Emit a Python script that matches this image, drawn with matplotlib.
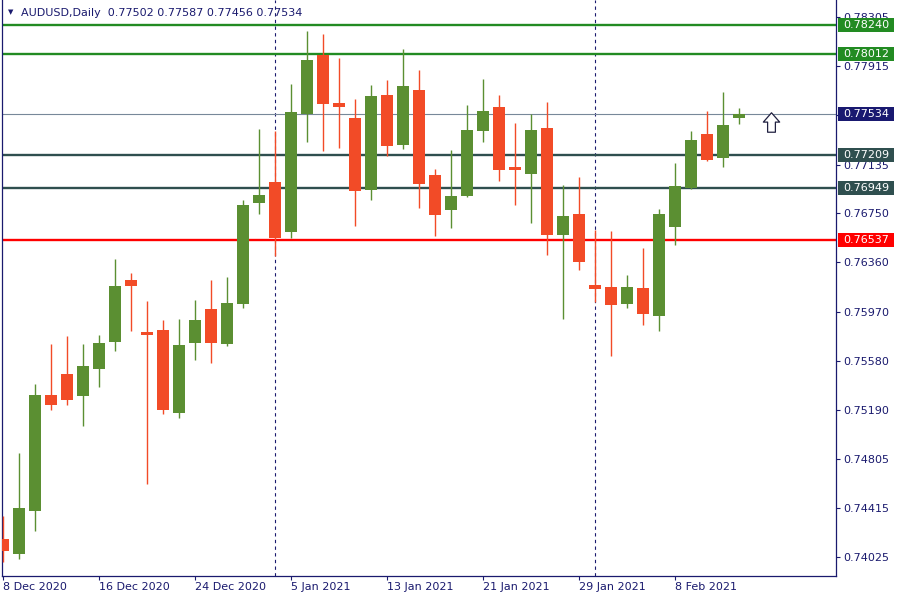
import matplotlib
matplotlib.use('Agg')
import matplotlib.pyplot as plt
import matplotlib.transforms as mtransforms
from matplotlib.patches import Rectangle
from matplotlib.path import Path

# Daily candles AUDUSD, 8 Dec 2020 .. 11 Feb 2021
opens = [0.74168, 0.74049, 0.74390, 0.75309, 0.75475, 0.75301, 0.75515, 0.75729,
         0.76221, 0.75808, 0.75824, 0.75166, 0.75721, 0.75991, 0.75713, 0.76030,
         0.76831, 0.76997, 0.76601, 0.77536, 0.78004, 0.77623, 0.77504, 0.76934,
         0.77687, 0.77291, 0.77727, 0.77053, 0.76775, 0.76886, 0.77402, 0.77592,
         0.77116, 0.77061, 0.77425, 0.76577, 0.76744, 0.76181, 0.76165, 0.76030,
         0.76157, 0.75935, 0.76641, 0.76950, 0.77378, 0.77188, 0.77502]
highs = [0.74350, 0.74849, 0.75396, 0.75713, 0.75777, 0.75713, 0.75785, 0.76387,
         0.76276, 0.76054, 0.75904, 0.75911, 0.76062, 0.76221, 0.76244, 0.76855,
         0.77417, 0.77402, 0.77774, 0.78194, 0.78170, 0.77980, 0.77655, 0.77766,
         0.77806, 0.78051, 0.77885, 0.77100, 0.77251, 0.77608, 0.77814, 0.77687,
         0.77465, 0.77536, 0.77631, 0.76973, 0.77037, 0.76617, 0.76609, 0.76260,
         0.76474, 0.76783, 0.77148, 0.77402, 0.77560, 0.77711, 0.77587]
lows = [0.73985, 0.74009, 0.74231, 0.75190, 0.75230, 0.75063, 0.75372, 0.75658,
        0.75816, 0.74604, 0.75158, 0.75127, 0.75586, 0.75563, 0.75697, 0.75999,
        0.76744, 0.76411, 0.76553, 0.77314, 0.77243, 0.77267, 0.76648, 0.76855,
        0.77203, 0.77259, 0.76791, 0.76569, 0.76633, 0.76878, 0.77314, 0.77005,
        0.76815, 0.76672, 0.76419, 0.75911, 0.76300, 0.76046, 0.75618, 0.75999,
        0.75864, 0.75816, 0.76498, 0.76942, 0.77164, 0.77116, 0.77456]
closes = [0.74073, 0.74413, 0.75309, 0.75230, 0.75269, 0.75539, 0.75721, 0.76173,
          0.76173, 0.75785, 0.75190, 0.75705, 0.75904, 0.75721, 0.76038, 0.76815,
          0.76894, 0.76553, 0.77552, 0.77964, 0.77615, 0.77592, 0.76926, 0.77679,
          0.77283, 0.77758, 0.76981, 0.76736, 0.76886, 0.77409, 0.77560, 0.77092,
          0.77092, 0.77409, 0.76577, 0.76728, 0.76363, 0.76149, 0.76022, 0.76165,
          0.75951, 0.76744, 0.76966, 0.77330, 0.77172, 0.77449, 0.77534]

date_ticks = [0, 6, 12, 18, 24, 30, 36, 42]
date_labels = ['8 Dec 2020', '16 Dec 2020', '24 Dec 2020', '5 Jan 2021',
               '13 Jan 2021', '21 Jan 2021', '29 Jan 2021', '8 Feb 2021']
month_starts = [17, 37]

# 0.77525 sits under the current price label, so its text is not shown
price_ticks = [0.78305, 0.77915, 0.77525, 0.77135, 0.76750, 0.76360,
               0.75970, 0.75580, 0.75190, 0.74805, 0.74415, 0.74025]
price_tick_labels = ['0.78305', '0.77915', '', '0.77135', '0.76750', '0.76360',
                     '0.75970', '0.75580', '0.75190', '0.74805', '0.74415', '0.74025']

levels = [0.78240, 0.78012, 0.77209, 0.76949, 0.76537]
level_colors = ['#228b22', '#228b22', '#2f4f4f', '#2f4f4f', '#ff0000']
last_price = 0.77534

NAVY = '#1a1a6e'
BULL = '#5b8f32'
BEAR = '#f24b27'

fig = plt.figure(figsize=(9, 6), dpi=100)
ax = fig.add_axes([2 / 900, 24 / 600, 834 / 900, 576 / 600])

px = (0.784397 - 0.738744) / 576  # price per pixel
ax.set_xlim(-0.0625, 52.0625)
ax.set_ylim(0.738744, 0.784397)

# separators at month start
for m in month_starts:
    ax.axvline(m, color=NAVY, lw=0.8, linestyle=(0, (3, 3)), zorder=1)

# horizontal levels
for lvl, col in zip(levels, level_colors):
    ax.axhline(lvl, color=col, lw=1.7, zorder=1)
ax.axhline(last_price, color='#778899', lw=0.8, zorder=1)

# candles
xs = list(range(len(opens)))
cols = [BULL if c >= o else BEAR for o, c in zip(opens, closes)]
ax.vlines(xs, lows, highs, colors=cols, linewidth=1.0, zorder=3)
bottoms = [min(o, c) for o, c in zip(opens, closes)]
heights = [max(abs(c - o), px) for o, c in zip(opens, closes)]
ax.bar(xs, heights, bottom=bottoms, width=0.69, color=cols, linewidth=0, zorder=4)

# signal arrow
arrow = Path([(0, 0.5), (0.42, 0.02), (0.2, 0.02), (0.2, -0.5),
              (-0.2, -0.5), (-0.2, 0.02), (-0.42, 0.02), (0, 0.5)],
             [Path.MOVETO] + [Path.LINETO] * 6 + [Path.CLOSEPOLY])
ax.plot([48], [0.77473], marker=arrow, markersize=14, mfc='white',
        mec='#202040', mew=0.9, zorder=6)

# axes styling
ax.spines['top'].set_visible(False)
for side in ['left', 'right', 'bottom']:
    ax.spines[side].set_color(NAVY)
    ax.spines[side].set_linewidth(0.9)

ax.yaxis.tick_right()
ax.set_yticks(price_ticks, price_tick_labels)
ax.tick_params(axis='y', direction='out', length=3, width=0.8, colors=NAVY,
               labelsize=8, pad=2)
ax.set_xticks(date_ticks, date_labels)
ax.tick_params(axis='x', direction='out', length=3, width=0.8, colors=NAVY,
               labelsize=8, pad=1.5)
for lab in ax.get_xticklabels():
    lab.set_ha('left')

# price labels on the right scale
trans = mtransforms.blended_transform_factory(ax.transAxes, ax.transData)
box_prices = levels + [last_price]
box_colors = level_colors + ['#191970']
for p, col in zip(box_prices, box_colors):
    ax.add_patch(Rectangle((1 + 2 / 834, p - 7 * px), 56 / 834, 14 * px,
                           transform=trans, fc=col, ec='none', clip_on=False, zorder=8))
    ax.text(1 + 7 / 834, p, '%.5f' % p, transform=trans, color='white',
            fontsize=8, ha='left', va='center', clip_on=False, zorder=9)

# header
fig.text(11 / 900, 1 - 12.5 / 600, '\u25bc', fontsize=5, color=NAVY, ha='center', va='center')
fig.text(21 / 900, 1 - 13 / 600, 'AUDUSD,Daily  0.77502 0.77587 0.77456 0.77534',
         fontsize=8, color=NAVY, ha='left', va='center')

fig.savefig('out.png', dpi=100)
